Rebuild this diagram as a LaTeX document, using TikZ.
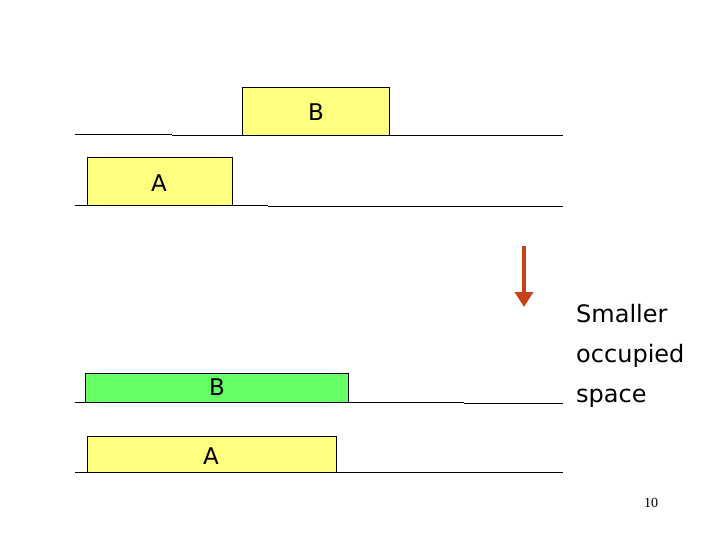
\documentclass[tikz,border=0pt]{standalone}
\usepackage{fontspec}
\setmainfont{DejaVu Sans}
\usetikzlibrary{arrows.meta}
\definecolor{boxyellow}{HTML}{FFFF80}
\definecolor{boxgreen}{HTML}{66FF66}
\definecolor{arrowred}{HTML}{C8401A}
\begin{document}
\begin{tikzpicture}[x=1pt,y=-1pt,
  blk/.style={draw=black,line width=0.9pt},
  floor/.style={draw=black,line width=0.9pt},
  lbl/.style={font=\fontsize{23}{23}\selectfont,inner sep=0pt}]
\useasboundingbox (0,0) rectangle (720,540);
% top scene
\filldraw[blk,fill=boxyellow] (242,87) rectangle (389,135);
\node[lbl] (bt) at (316,112) {B};
\filldraw[blk,fill=boxyellow] (87,157) rectangle (232,205);
\node[lbl] (at) at (159,183) {A};
\draw[floor] (75,134) -- (172,134);
\draw[floor] (172,135) -- (563,135);
\draw[floor] (75,205) -- (268,205);
\draw[floor] (268,206) -- (563,206);
% bottom scene
\filldraw[blk,fill=boxgreen] (85,373) rectangle (348,402);
\node[lbl] (bb) at (217,387) {B};
\filldraw[blk,fill=boxyellow] (87,436) rectangle (336,472);
\node[lbl] (ab) at (211,456) {A};
\draw[floor] (75,402) -- (464,402);
\draw[floor] (464,403) -- (563,403);
\draw[floor] (75,472) -- (563,472);
% arrow
\coordinate (a1) at (524,246);
\coordinate (a2) at (524,307);
\draw[arrowred,line width=3.5pt,-{Triangle[length=15pt,width=18pt]}] (a1) -- (a2);
\node[anchor=north west,align=left,inner sep=0pt,font=\fontsize{24}{40}\selectfont] (txt) at (576,304) {Smaller\\occupied\\space};
\node[font=\fontsize{14}{14}\selectfont\rmfamily,inner sep=0pt] (pg) at (651,503) {\fontspec{Liberation Serif}10};
\end{tikzpicture}
\end{document}
